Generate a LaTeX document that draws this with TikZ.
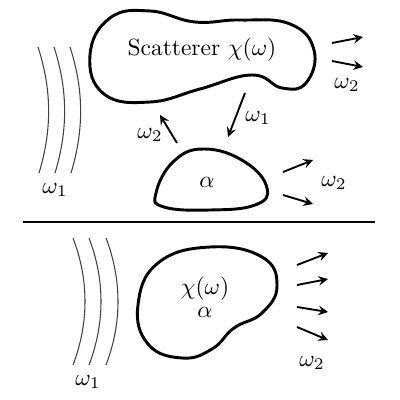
\documentclass[tikz,border=0pt]{standalone}
\begin{document}
\begin{tikzpicture}[x=0.015cm,y=-0.015cm,>=stealth,
    blob/.style={line width=1.25pt},
    wave/.style={line width=0.45pt,black!75},
    ray/.style={->,line width=0.8pt}]
\useasboundingbox (0,0) rectangle (400,400);
\draw[blob] plot[smooth cycle,tension=0.75] coordinates {(90,55) (110,18) (150,11) (195,22) (240,20) (290,24) (314,50) (306,83) (282,88) (252,75) (200,89) (150,102) (104,94)};
\node (scat) at (202,50) {Scatterer $\chi(\omega)$};
\draw[blob] plot[smooth cycle,tension=0.75] coordinates {(156,193) (174,161) (205,149) (245,162) (267,188) (255,205) (210,210) (164,207)};
\node (alpha) at (207,182) {$\alpha$};
\foreach \dx in {0,16,32} {
    \draw[wave] (38+\dx,47) .. controls (52+\dx,90) and (52+\dx,130) .. (39+\dx,173);
}
\node (wone) at (55,190) {$\omega_1$};
\coordinate (a1) at (332,43); \coordinate (b1) at (363,37);
\coordinate (a2) at (332,61); \coordinate (b2) at (363,67);
\draw[ray] (a1) -- (b1);
\draw[ray] (a2) -- (b2);
\node (wtwo) at (347,85) {$\omega_2$};
\coordinate (c1) at (245,93); \coordinate (d1) at (228,137);
\draw[ray] (c1) -- (d1);
\node (wdown) at (258,118) {$\omega_1$};
\coordinate (c2) at (177,143); \coordinate (d2) at (160,115);
\draw[ray] (c2) -- (d2);
\node (wup) at (150,135) {$\omega_2$};
\coordinate (e1) at (283,172); \coordinate (f1) at (313,160);
\coordinate (e2) at (283,195); \coordinate (f2) at (313,204);
\draw[ray] (e1) -- (f1);
\draw[ray] (e2) -- (f2);
\node (walpha) at (334,183) {$\omega_2$};
\coordinate (l) at (23,222); \coordinate (r) at (375,222);
\draw[line width=1pt] (l) -- (r);
\draw[blob] plot[smooth cycle,tension=0.75] coordinates {(210,247) (262,257) (277,286) (262,313) (234,328) (212,349) (182,358) (148,344) (138,305) (158,263)};
\node (chi) at (205,289) {$\chi(\omega)$};
\node (alphab) at (205,312) {$\alpha$};
\foreach \dx in {0,16,33} {
    \draw[wave] (73+\dx,238) .. controls (89+\dx,280) and (89+\dx,323) .. (73+\dx,365);
}
\node (wbone) at (88,382) {$\omega_1$};
\foreach \ya/\yb [count=\i] in {265/253,285/279,307/312,327/340} {
    \coordinate (g\i) at (297,\ya); \coordinate (h\i) at (328,\yb);
    \draw[ray] (g\i) -- (h\i);
}
\node (wbtwo) at (312,363) {$\omega_2$};
\end{tikzpicture}
\end{document}
